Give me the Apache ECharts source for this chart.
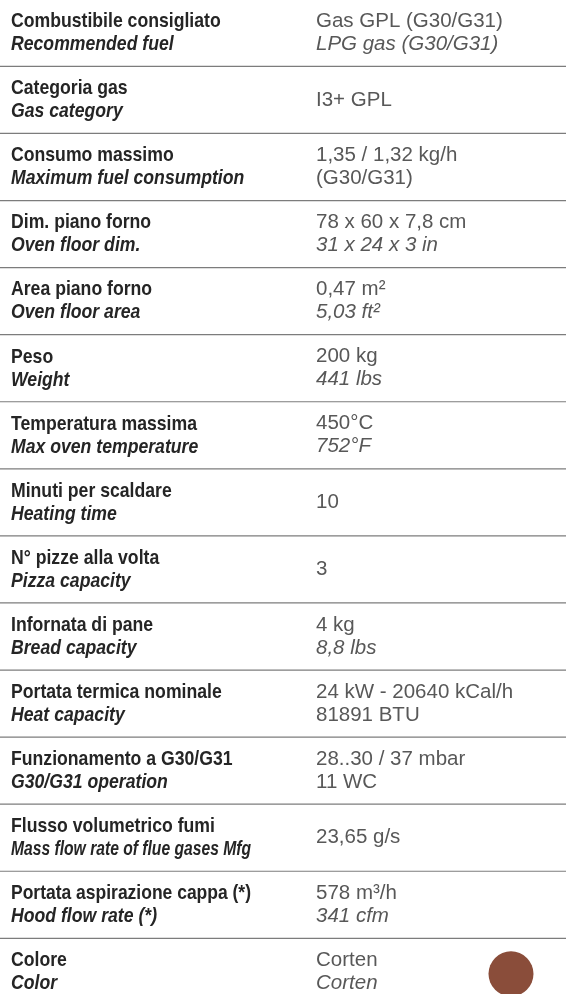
<!DOCTYPE html>
<html>
<head>
<meta charset="utf-8">
<script src="https://cdn.jsdelivr.net/npm/echarts@6/dist/echarts.min.js"></script>
<style>
  html, body { margin: 0; padding: 0; background: #fff; }
  #chart { width: 566px; height: 994px; }
</style>
</head>
<body>
<div id="chart"></div>
<script>
  // dati della tabella
  const rowsIt = ['Combustibile consigliato', 'Categoria gas', 'Consumo massimo', 'Dim. piano forno',
    'Area piano forno', 'Peso', 'Temperatura massima', 'Minuti per scaldare', 'N° pizze alla volta',
    'Infornata di pane', 'Portata termica nominale', 'Funzionamento a G30/G31',
    'Flusso volumetrico fumi', 'Portata aspirazione cappa (*)', 'Colore'];
  const rowsEn = ['Recommended fuel', 'Gas category', 'Maximum fuel consumption', 'Oven floor dim.',
    'Oven floor area', 'Weight', 'Max oven temperature', 'Heating time', 'Pizza capacity',
    'Bread capacity', 'Heat capacity', 'G30/G31 operation',
    'Mass flow rate of flue gases Mfg', 'Hood flow rate (*)', 'Color'];
  const valuesMain = ['Gas GPL (G30/G31)', 'I3+ GPL', '1,35 / 1,32 kg/h', '78 x 60 x 7,8 cm',
    '0,47 m²', '200 kg', '450°C', '10', '3', '4 kg', '24 kW - 20640 kCal/h',
    '28..30 / 37 mbar', '23,65 g/s', '578 m³/h', 'Corten'];
  const valuesAlt = ['LPG gas (G30/G31)', '', '(G30/G31)', '31 x 24 x 3 in',
    '5,03 ft²', '441 lbs', '752°F', '', '', '8,8 lbs', '81891 BTU',
    '11 WC', '', '341 cfm', 'Corten'];
  const swatchRow = 'Colore';
  const swatchColor = '#8a4d3a';

  // righe con la seconda riga del valore non in corsivo
  const uprightAlt = ['Consumo massimo', 'Portata termica nominale', 'Funzionamento a G30/G31'];

  const LEFT_X = 11;
  const RIGHT_X = 316;
  const SWATCH_X = 511;
  const LINE_GAP = 11.5;
  const LABEL_FONT = '"Liberation Sans", Arial, sans-serif';
  const VALUE_FONT = '"Liberation Sans", Arial, sans-serif';
  const LABEL_SCALE = 0.84; // finto condensato
  const LABEL_MAX_W = 240;

  const ctx = document.createElement('canvas').getContext('2d');
  function fitScale(text, font, scale) {
    ctx.font = font;
    const w = ctx.measureText(text).width * scale;
    return w > LABEL_MAX_W ? scale * LABEL_MAX_W / w : scale;
  }

  const chart = echarts.init(document.getElementById('chart'), null, { renderer: 'canvas' });

  function text(x, y, s, opts) {
    const font = (opts.italic ? 'italic ' : '') + (opts.bold ? 'bold ' : '') + opts.size + 'px ' + opts.family;
    const sx = opts.scale ? fitScale(s, font, opts.scale) : 1;
    return {
      type: 'text',
      x: x, y: y,
      scaleX: sx,
      style: {
        text: s,
        x: 0, y: 0,
        font: font,
        fill: opts.color,
        align: 'left',
        verticalAlign: 'middle'
      }
    };
  }

  chart.setOption({
    animation: false,
    grid: { left: 0, right: 0, top: 0, bottom: 0 },
    xAxis: { type: 'value', min: 0, max: 566, show: false },
    yAxis: { type: 'value', min: -0.49, max: 14.33, inverse: true, show: false },
    series: [{
      type: 'custom',
      data: rowsIt.map((r, i) => [i]),
      encode: { y: 0 },
      renderItem(params, api) {
        const i = api.value(0);
        const cy = api.coord([0, i])[1];
        const children = [];
        if (i < rowsIt.length - 1) {
          const ly = api.coord([0, i + 0.5])[1];
          children.push({
            type: 'line',
            shape: { x1: api.coord([0, i])[0], y1: ly, x2: api.coord([566, i])[0], y2: ly },
            style: { stroke: '#7c7c7c', lineWidth: 1.2 }
          });
        }
        children.push(text(LEFT_X, cy - LINE_GAP, rowsIt[i],
          { bold: true, size: 21, family: LABEL_FONT, color: '#252525', scale: LABEL_SCALE }));
        children.push(text(LEFT_X, cy + LINE_GAP, rowsEn[i],
          { bold: true, italic: true, size: 21, family: LABEL_FONT, color: '#252525', scale: LABEL_SCALE }));
        if (valuesAlt[i]) {
          children.push(text(RIGHT_X, cy - LINE_GAP, valuesMain[i],
            { size: 20.5, family: VALUE_FONT, color: '#585858' }));
          children.push(text(RIGHT_X, cy + LINE_GAP, valuesAlt[i],
            { italic: uprightAlt.indexOf(rowsIt[i]) < 0, size: 20.5, family: VALUE_FONT, color: '#585858' }));
        } else {
          children.push(text(RIGHT_X, cy, valuesMain[i],
            { size: 20.5, family: VALUE_FONT, color: '#585858' }));
        }
        if (rowsIt[i] === swatchRow) {
          children.push({
            type: 'circle',
            shape: { cx: api.coord([SWATCH_X, i])[0], cy: cy + 2, r: 22.5 },
            style: { fill: swatchColor }
          });
        }
        return { type: 'group', children: children };
      }
    }]
  });
</script>
</body>
</html>
